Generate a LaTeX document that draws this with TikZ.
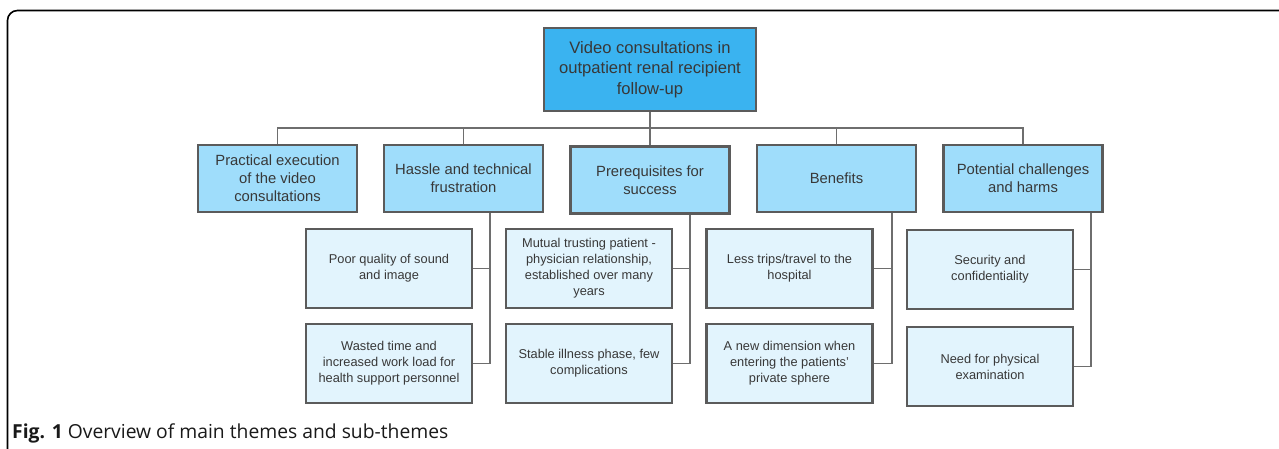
\documentclass[tikz,border=0pt]{standalone}
\usepackage{fontspec}
\setmainfont{Liberation Sans}
\newfontfamily\capfont{Open Sans}
\definecolor{rootfill}{HTML}{3AB3F0}
\definecolor{lonefill}{HTML}{9FDDFB}
\definecolor{subfill}{HTML}{E2F4FD}
\definecolor{boxline}{HTML}{5B5B5B}
\definecolor{conline}{HTML}{6E6E6E}
\definecolor{txt}{HTML}{383838}
\tikzset{
  basebox/.style={draw=boxline, line width=2.3pt, text=txt, align=center, inner sep=0pt},
  rootbox/.style={basebox, fill=rootfill, minimum width=212pt, minimum height=83pt,
    font=\fontsize{16.6}{20.5}\selectfont},
  themebox/.style={basebox, fill=lonefill, minimum width=159pt, minimum height=67pt,
    font=\fontsize{14.8}{18}\selectfont},
  subbox/.style={basebox, fill=subfill, minimum width=166pt, minimum height=79pt,
    font=\fontsize{12.8}{16}\selectfont},
  conn/.style={draw=conline, line width=1.8pt},
}
\begin{document}
\begin{tikzpicture}[x=1pt,y=-1pt]
\useasboundingbox (0,0) rectangle (1279,449);
\clip (0,0) rectangle (1279,449);
\fill[white] (0,0) rectangle (1279,449);
% frame
\draw[black, line width=1.6pt, rounded corners=10pt] (7.5,470) -- (7.5,10.5) -- (1300,10.5);
% root
\node[rootbox] (root) at (650,69.5) {Video consultations in\\outpatient renal recipient\\follow-up};
% themes
\node[themebox] (t1) at (277.5,178.5) {Practical execution\\of the video\\consultations};
\node[themebox] (t2) at (463.5,178.5) {Hassle and technical\\frustration};
\node[themebox] (t3) at (650,180) {Prerequisites for\\success};
\node[themebox] (t4) at (836.5,178.5) {Benefits};
\node[themebox] (t5) at (1023,178.5) {Potential challenges\\and harms};
% sub themes
\node[subbox] (a2) at (389,268.5) {Poor quality of sound\\and image};
\node[subbox] (b2) at (389,363.5) {Wasted time and\\increased work load for\\health support personnel};
\node[subbox] (a3) at (589,268.5) {Mutual trusting patient -\\physician relationship,\\established over many\\years};
\node[subbox] (b3) at (589,363.5) {Stable illness phase, few\\complications};
\node[subbox] (a4) at (789.5,268.5) {Less trips/travel to the\\hospital};
\node[subbox] (b4) at (789.5,363.5) {A new dimension when\\entering the patients'\\private sphere};
\node[subbox] (a5) at (990,269.5) {Security and\\confidentiality};
\node[subbox] (b5) at (990,366.5) {Need for physical\\examination};
% bus
\coordinate (bus) at (650,128);
\draw[conn] (root.south) -- (t3.north);
\draw[conn] (t1.north) |- (bus) -| (t5.north);
\draw[conn] (t2.north) -- (t2.north |- bus);
\draw[conn] (t4.north) -- (t4.north |- bus);
% spines
\coordinate (sp2) at (490,0);
\coordinate (sp3) at (690,0);
\coordinate (sp4) at (892,0);
\coordinate (sp5) at (1091,0);
\draw[conn] (t2.south -| sp2) |- (b2.east);
\draw[conn] (a2.east) -- (a2.east -| sp2);
\draw[conn] (t3.south -| sp3) |- (b3.east);
\draw[conn] (a3.east) -- (a3.east -| sp3);
\draw[conn] (t4.south -| sp4) |- (b4.east);
\draw[conn] (a4.east) -- (a4.east -| sp4);
\draw[conn] (t5.south -| sp5) |- (b5.east);
\draw[conn] (a5.east) -- (a5.east -| sp5);
% caption
\node[anchor=base west, inner sep=0pt, text=black!90] (cap) at (12,438)
  {\capfont\fontsize{19.3}{23}\selectfont\textbf{Fig. 1} Overview of main themes and sub-themes};
\end{tikzpicture}
\end{document}
